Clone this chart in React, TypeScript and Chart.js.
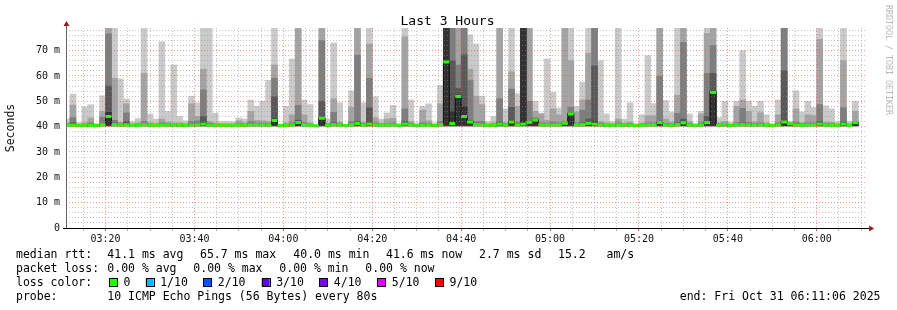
import React, { useEffect, useRef } from 'react';
import { Chart, registerables } from 'chart.js';

Chart.register(...registerables);

// ---------------- DATA ----------------
const STEP_S = 80; // one sample every 80 s
const FIRST_SAMPLE_END = '03:12:00';
const RANGE_START = '03:11:06';
const RANGE_END = '06:11:06';

// Sorted pings per sample (ms). Values above the axis top are clipped (shown as 90).
const ping10 = [
  43.0, 52.8, 41.6, 47.8, 48.6, 41.2, 52.2, 90, 90, 58.8,
  50.9, 42.0, 43.2, 90, 45.0, 43.0, 73.5, 46.0, 64.3, 44.0,
  42.3, 52.0, 49.4, 90, 90, 45.3, 42.0, 42.0, 42.0, 43.4,
  43.0, 50.5, 48.0, 50.0, 58.2, 90, 41.0, 48.0, 66.7, 90,
  50.5, 48.7, 40.8, 90, 43.0, 73.0, 49.4, 41.0, 54.1, 90,
  49.4, 90, 51.8, 43.0, 45.4, 48.4, 41.2, 90, 50.5, 41.5,
  48.0, 49.0, 41.5, 56.3, 90, 90, 90, 90, 76.2, 72.6,
  52.0, 42.0, 44.0, 90, 47.0, 90, 53.0, 90, 90, 50.0,
  45.3, 66.7, 53.5, 47.4, 90, 90, 48.0, 57.6, 90, 90,
  66.0, 45.0, 42.0, 90, 43.0, 49.4, 41.2, 44.7, 68.0, 49.1,
  90, 50.3, 45.8, 90, 90, 45.0, 41.2, 46.0, 90, 90,
  43.5, 50.0, 41.8, 50.0, 70.0, 50.0, 48.0, 50.0, 44.7, 41.2,
  50.5, 90, 42.0, 54.1, 45.8, 50.0, 47.6, 90, 48.2, 47.0,
  42.0, 90, 42.0, 50.0, null,
];
const ping9 = [
  41.5, 48.5, 41.0, 41.5, 43.4, 40.8, 46.0, 90, 59.1, 41.8,
  49.0, 41.2, 41.5, 61.1, 41.6, 41.3, 43.0, 41.8, 41.5, 41.5,
  41.2, 49.0, 44.0, 62.7, 42.0, 41.5, 41.2, 41.2, 41.2, 42.3,
  41.5, 46.0, 42.5, 42.3, 42.0, 64.3, 40.8, 41.5, 44.7, 90,
  44.7, 41.5, 40.6, 90, 41.4, 51.0, 41.8, 40.7, 47.6, 90,
  41.8, 72.6, 43.5, 41.4, 43.0, 43.3, 40.8, 75.4, 42.0, 40.9,
  46.5, 42.3, 40.9, 49.0, 90, 90, 90, 90, 62.7, 52.0,
  48.7, 41.2, 41.5, 90, 41.6, 61.6, 48.0, 90, 90, 46.0,
  45.0, 42.5, 47.0, 44.7, 90, 66.0, 45.8, 50.5, 69.0, 90,
  42.0, 41.5, 41.2, 43.0, 41.4, 41.8, 40.8, 41.4, 44.3, 44.3,
  90, 43.0, 41.8, 52.4, 90, 42.0, 40.8, 45.0, 76.8, 90,
  41.5, 42.0, 41.0, 48.0, 50.5, 46.0, 42.0, 45.5, 41.5, 40.8,
  44.7, 90, 41.6, 47.0, 41.6, 44.7, 44.3, 74.5, 41.8, 41.7,
  41.2, 66.0, 41.2, 46.0, null,
];
const ping8 = [
  41.0, 43.5, 40.8, 41.0, 41.5, 40.6, 43.7, 76.6, 42.5, 41.2,
  45.4, 40.9, 41.0, 42.0, 41.0, 40.9, 41.5, 41.2, 41.0, 41.0,
  40.9, 42.0, 42.3, 54.5, 41.4, 41.0, 40.9, 40.9, 40.9, 41.2,
  41.0, 42.0, 41.5, 41.4, 41.3, 59.1, 40.6, 41.0, 41.5, 48.4,
  41.5, 41.0, 40.5, 73.9, 41.0, 45.6, 41.2, 40.6, 42.0, 68.2,
  41.2, 59.1, 41.5, 41.0, 41.2, 41.5, 40.6, 47.0, 41.3, 40.7,
  41.5, 41.3, 40.7, 42.0, 90, 90, 64.3, 90, 58.3, 42.0,
  42.0, 40.9, 41.0, 51.0, 41.1, 54.8, 41.8, 90, 50.0, 43.5,
  41.5, 41.4, 41.8, 41.5, 42.0, 47.6, 41.5, 46.5, 50.5, 90,
  41.4, 41.0, 40.9, 41.5, 41.0, 41.2, 40.6, 41.0, 41.5, 41.5,
  59.8, 41.3, 41.1, 45.2, 73.2, 41.2, 40.6, 41.5, 61.0, 72.0,
  41.0, 41.4, 40.8, 41.5, 47.2, 41.6, 41.3, 41.5, 41.0, 40.6,
  41.5, 90, 41.4, 41.8, 41.1, 41.5, 41.5, 48.7, 41.2, 41.1,
  40.9, 47.4, 40.9, 42.0, null,
];
const ping7 = [
  40.8, 41.5, 40.6, 40.7, 40.9, 40.5, 41.2, 56.0, 41.5, 40.9,
  42.0, 40.7, 40.7, 41.3, 40.8, 40.7, 41.0, 40.9, 40.8, 40.8,
  40.7, 41.2, 41.3, 44.0, 41.0, 40.8, 40.7, 40.7, 40.7, 40.9,
  40.8, 41.2, 41.1, 41.0, 40.9, 51.8, 40.5, 40.8, 41.0, 42.5,
  41.0, 40.8, 40.4, 50.0, 40.8, 41.5, 40.9, 40.5, 41.3, 42.0,
  40.9, 47.4, 41.0, 40.8, 40.9, 41.0, 40.5, 42.0, 40.9, 40.6,
  41.0, 40.9, 40.6, 41.2, 90, 66.0, 55.0, 68.3, 42.5, 41.3,
  41.2, 40.7, 40.8, 41.8, 40.8, 47.6, 41.2, 90, 42.0, 43.0,
  41.0, 41.0, 41.2, 41.0, 41.6, 45.5, 41.0, 41.5, 43.0, 64.0,
  41.0, 40.8, 40.7, 41.0, 40.8, 40.9, 40.5, 40.8, 41.0, 41.0,
  42.0, 40.9, 40.8, 41.5, 43.0, 40.9, 40.5, 41.0, 44.0, 61.0,
  40.8, 41.2, 40.6, 41.0, 41.5, 41.1, 41.0, 41.0, 40.8, 40.5,
  41.0, 62.0, 41.3, 41.2, 40.8, 41.0, 41.0, 42.0, 40.9, 40.8,
  40.7, 41.8, 40.7, 41.8, null,
];
const ping6 = [
  40.6, 40.9, 40.5, 40.5, 40.6, 40.4, 40.9, 45.6, 41.0, 40.7,
  41.0, 40.6, 40.6, 41.0, 40.6, 40.6, 40.8, 40.7, 40.6, 40.6,
  40.6, 40.9, 40.9, 41.5, 40.8, 40.6, 40.6, 40.6, 40.6, 40.7,
  40.6, 40.9, 40.9, 40.8, 40.7, 43.0, 40.4, 40.6, 40.8, 41.8,
  40.8, 40.6, 40.4, 43.5, 40.6, 41.0, 40.7, 40.4, 41.0, 41.5,
  40.7, 41.5, 40.8, 40.6, 40.7, 40.8, 40.4, 41.3, 40.7, 40.5,
  40.8, 40.7, 40.5, 40.9, 90, 46.0, 52.5, 47.9, 42.0, 41.0,
  40.9, 40.6, 40.6, 41.2, 40.6, 42.3, 40.9, 90, 41.7, 42.8,
  40.8, 40.8, 40.9, 40.8, 41.4, 45.2, 40.8, 41.0, 41.5, 42.0,
  40.8, 40.6, 40.6, 40.8, 40.6, 40.7, 40.4, 40.6, 40.8, 40.8,
  41.7, 40.7, 40.6, 41.0, 41.7, 40.7, 40.4, 40.8, 41.8, 54.0,
  40.6, 41.0, 40.5, 40.8, 41.0, 40.8, 40.8, 40.8, 40.6, 40.4,
  40.8, 42.0, 41.2, 40.9, 40.6, 40.8, 40.8, 41.3, 40.7, 40.6,
  40.6, 41.2, 40.6, 41.7, null,
];
const medianRtt = [
  40.5, 40.6, 40.4, 40.4, 40.5, 40.4, 40.8, 44.0, 40.8, 40.6,
  40.7, 40.5, 40.5, 40.8, 40.5, 40.5, 40.7, 40.6, 40.5, 40.5,
  40.5, 40.7, 40.7, 41.0, 40.6, 40.5, 40.5, 40.5, 40.5, 40.6,
  40.5, 40.7, 40.8, 40.7, 40.6, 42.4, 40.4, 40.5, 40.7, 41.6,
  40.7, 40.5, 40.3, 43.3, 40.5, 40.8, 40.6, 40.4, 40.8, 41.2,
  40.6, 41.0, 40.7, 40.5, 40.6, 40.7, 40.4, 41.0, 40.6, 40.4,
  40.6, 40.6, 40.4, 40.8, 65.5, 41.2, 51.9, 44.0, 41.8, 40.8,
  40.7, 40.5, 40.5, 41.0, 40.5, 41.8, 40.7, 41.0, 41.7, 42.6,
  40.7, 40.7, 40.7, 40.7, 41.3, 45.0, 40.7, 40.8, 41.3, 41.0,
  40.7, 40.5, 40.5, 40.7, 40.5, 40.6, 40.4, 40.5, 40.7, 40.7,
  41.6, 40.6, 40.5, 40.8, 41.5, 40.6, 40.4, 40.7, 41.6, 53.5,
  40.5, 40.9, 40.4, 40.7, 40.8, 40.7, 40.7, 40.7, 40.5, 40.4,
  40.7, 41.8, 41.1, 40.7, 40.5, 40.7, 40.7, 41.0, 40.6, 40.5,
  40.5, 41.0, 40.5, 41.6, null,
];
// typical lowest pings (p1..p5), ms
const lowerPings = [40.0, 40.2, 40.3, 40.4, 40.5];

const xTickLabels = ['03:20', '03:40', '04:00', '04:20', '04:40', '05:00', '05:20', '05:40', '06:00'];
const yTickLabels = ['0', '10 m', '20 m', '30 m', '40 m', '50 m', '60 m', '70 m'];
const Y_MAX = 78.9;

const statsRtt = ['41.1 ms avg', '65.7 ms max', '40.0 ms min', '41.6 ms now', '2.7 ms sd', '15.2   am/s'];
const statsLoss = ['0.00 % avg', '0.00 % max', '0.00 % min', '0.00 % now'];
const lossLabels = ['0', '1/10', '2/10', '3/10', '4/10', '5/10', '9/10'];
const lossColors = ['#26ff00', '#00b8ff', '#0059ff', '#5e00ff', '#7e00ff', '#dd00ff', '#ff0000'];
const probeText = '10 ICMP Echo Pings (56 Bytes) every 80s';
const endText = 'end: Fri Oct 31 06:11:06 2025';

// ---------------- HELPERS ----------------
const toSec = (s: string) => {
  const p = s.split(':').map(Number);
  return p[0] * 3600 + p[1] * 60 + (p[2] || 0);
};
const sampleEnd = ping10.map((_, i) => toSec(FIRST_SAMPLE_END) + i * STEP_S);
const majorX = xTickLabels.map(toSec);

const FONT = '"DejaVu Sans Mono", monospace';
const shadeColors = ['#cacaca', '#a4a4a4', '#7e7e7e', '#585858', '#323232'];
const shadeUppers = [ping10, ping9, ping8, ping7, ping6];

const decorPlugin = {
  id: 'decor',
  afterDraw(chart: any) {
    const ctx = chart.ctx as CanvasRenderingContext2D;
    const a = chart.chartArea;
    ctx.save();
    // title
    ctx.fillStyle = '#000';
    ctx.font = `13px ${FONT}`;
    ctx.textAlign = 'center';
    ctx.textBaseline = 'alphabetic';
    ctx.fillText('Last 3 Hours', 447.5, 25);

    // axes
    ctx.lineWidth = 1;
    ctx.strokeStyle = '#000';
    ctx.beginPath();
    ctx.moveTo(a.left - 3, Math.round(a.bottom) + 0.5);
    ctx.lineTo(a.right + 4, Math.round(a.bottom) + 0.5);
    ctx.stroke();
    ctx.strokeStyle = '#666';
    ctx.beginPath();
    ctx.moveTo(Math.round(a.left) + 0.5, a.bottom);
    ctx.lineTo(Math.round(a.left) + 0.5, a.top - 3);
    ctx.stroke();
    ctx.fillStyle = '#9b1b1b';
    const ax = Math.round(a.left) + 0.5;
    ctx.beginPath();
    ctx.moveTo(ax, a.top - 7);
    ctx.lineTo(ax - 3, a.top - 2);
    ctx.lineTo(ax + 3, a.top - 2);
    ctx.closePath();
    ctx.fill();
    const ay = Math.round(a.bottom) + 0.5;
    ctx.beginPath();
    ctx.moveTo(a.right + 8, ay);
    ctx.lineTo(a.right + 3, ay - 3);
    ctx.lineTo(a.right + 3, ay + 3);
    ctx.closePath();
    ctx.fill();

    // watermark
    ctx.save();
    ctx.translate(888.5, 5);
    ctx.rotate(Math.PI / 2);
    ctx.font = `8.3px ${FONT}`;
    ctx.fillStyle = '#b8b8b8';
    ctx.textAlign = 'left';
    ctx.textBaseline = 'middle';
    ctx.fillText('RRDTOOL / TOBI OETIKER', 0, 0);
    ctx.restore();

    // legend rows
    ctx.font = `11.5px ${FONT}`;
    ctx.fillStyle = '#000';
    ctx.textAlign = 'left';
    ctx.textBaseline = 'alphabetic';
    const rows = [258.3, 272.3, 286.3, 300.3];
    ctx.fillText('median rtt:', 16, rows[0]);
    const rttX = [107.3, 200, 293.3, 386, 479, 558];
    statsRtt.forEach((t, i) => ctx.fillText(t, rttX[i], rows[0]));
    ctx.fillText('packet loss:', 16, rows[1]);
    const lossX = [107.3, 193.3, 279.3, 365.3];
    statsLoss.forEach((t, i) => ctx.fillText(t, lossX[i], rows[1]));
    ctx.fillText('loss color:', 16, rows[2]);
    const swX = [109, 145.7, 203.3, 261.7, 319.3, 377.3, 435];
    lossLabels.forEach((t, i) => {
      ctx.fillStyle = lossColors[i];
      ctx.fillRect(swX[i], 278.5, 8, 8);
      ctx.strokeStyle = '#000';
      ctx.strokeRect(Math.round(swX[i]) + 0.5, 278.5, 8, 8);
      ctx.fillStyle = '#000';
      ctx.fillText(t, swX[i] + 14.5, rows[2]);
    });
    ctx.fillText('probe:', 16, rows[3]);
    ctx.fillText(probeText, 107.3, rows[3]);
    ctx.textAlign = 'right';
    ctx.fillText(endText, 880.5, rows[3]);
    ctx.restore();
  },
};

export default function App() {
  const ref = useRef<HTMLCanvasElement>(null);
  useEffect(() => {
    const canvas = ref.current!;
    const barSets = shadeUppers.map((upper, s) => ({
      type: 'bar' as const,
      data: sampleEnd
        .map((t, i) => (upper[i] == null ? null : { x: t - STEP_S / 2, y: [lowerPings[s], upper[i]] }))
        .filter(Boolean),
      backgroundColor: shadeColors[s],
      borderWidth: 0,
      barPercentage: 1,
      categoryPercentage: 1,
      grouped: false,
      order: 5 - s + 1,
      clip: 0,
    }));
    const medianSet = {
      type: 'line' as const,
      data: sampleEnd.map((t, i) => ({ x: t - STEP_S / 2, y: medianRtt[i] })),
      stepped: 'middle',
      borderColor: '#111',
      borderWidth: 1,
      pointStyle: 'line',
      pointRadius: 2.97,
      pointHoverRadius: 2.97,
      pointBorderWidth: 3,
      pointBorderColor: '#26ff00',
      pointBackgroundColor: '#26ff00',
      spanGaps: false,
      order: 0,
      clip: 0,
    };
    const chart = new Chart(canvas, {
      type: 'bar',
      data: { datasets: [...(barSets as any[]), medianSet as any] },
      options: {
        animation: false,
        responsive: false,
        devicePixelRatio: 1,
        events: [],
        layout: { padding: { left: 0, right: 30.9, top: 28, bottom: 62 } },
        plugins: { legend: { display: false }, tooltip: { enabled: false }, title: { display: false } },
        scales: {
          x: {
            type: 'linear',
            min: toSec(RANGE_START),
            max: toSec(RANGE_END),
            offset: false,
            grid: {
              offset: false,
              z: 1,
              lineWidth: 1,
              color: (c: any) => (majorX.includes(c.tick?.value) ? 'rgba(255,60,60,0.55)' : 'rgba(140,140,140,0.5)'),
              tickColor: (c: any) => (majorX.includes(c.tick?.value) ? 'rgba(220,40,40,0.8)' : 'rgba(150,150,150,0.7)'),
              drawTicks: true,
              tickLength: 3,
            },
            border: { display: false, dash: [1, 2] },
            ticks: {
              autoSkip: false,
              maxRotation: 0,
              minRotation: 0,
              padding: 2,
              color: '#111',
              font: { family: FONT, size: 10 },
              callback: (v: any) => {
                const idx = majorX.indexOf(Number(v));
                return idx >= 0 ? xTickLabels[idx] : '';
              },
            },
            afterBuildTicks: (s: any) => {
              const ticks = [];
              for (let v = toSec('03:15'); v <= toSec(RANGE_END); v += 300) ticks.push({ value: v });
              s.ticks = ticks;
            },
            afterFit: (s: any) => {
              s.height = 20;
            },
          },
          y: {
            type: 'linear',
            min: 0,
            max: Y_MAX,
            grid: {
              z: 1,
              drawTicks: false,
              lineWidth: 1,
              color: (c: any) => (c.tick && c.tick.value % 10 === 0 ? 'rgba(255,60,60,0.55)' : 'rgba(140,140,140,0.5)'),
            },
            border: { display: false, dash: [1, 2] },
            ticks: {
              autoSkip: false,
              padding: 6,
              color: '#111',
              font: { family: FONT, size: 10 },
              callback: (v: any) => (Number(v) % 10 === 0 ? yTickLabels[Number(v) / 10] ?? '' : ''),
            },
            title: {
              display: true,
              text: 'Seconds',
              color: '#111',
              font: { family: FONT, size: 11.5 },
              padding: { top: 4, bottom: 0 },
            },
            afterBuildTicks: (s: any) => {
              const ticks = [];
              for (let v = 0; v <= Y_MAX; v += 2) ticks.push({ value: v });
              s.ticks = ticks;
            },
            afterFit: (s: any) => {
              s.width = 66;
            },
          },
        },
      } as any,
      plugins: [decorPlugin],
    });
    return () => chart.destroy();
  }, []);
  return (
    <div style={{ position: 'absolute', left: 0, top: 0, width: 897, height: 310, background: '#fff' }}>
      <canvas ref={ref} width={897} height={310} style={{ width: 897, height: 310, display: 'block' }} />
    </div>
  );
}
